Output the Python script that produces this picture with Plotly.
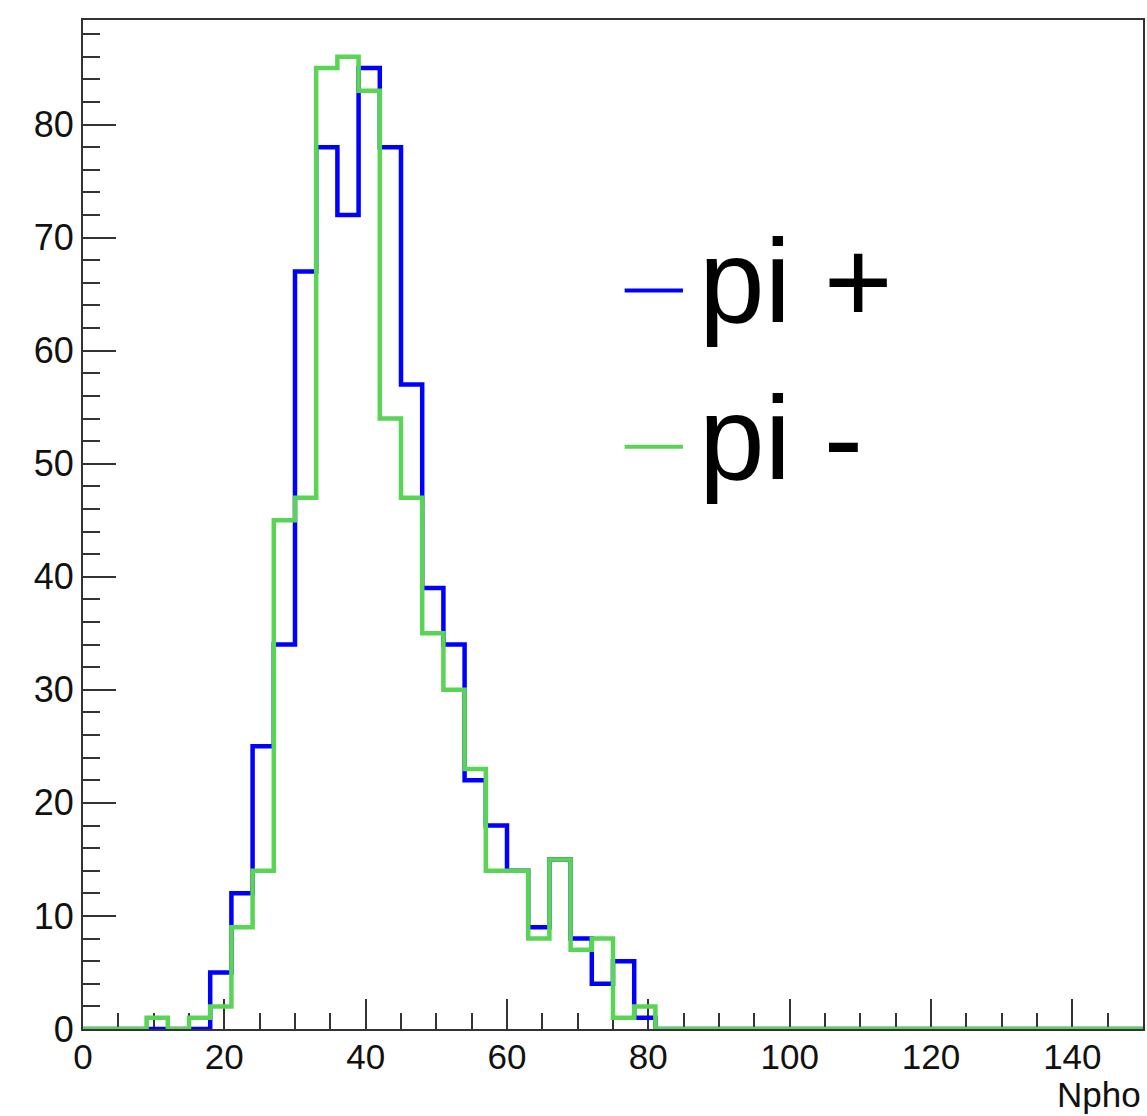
import plotly.graph_objects as go

# Histogram binning (Npho), bin width 3 from 0 to 150
bin_edges = list(range(0, 151, 3))

# Counts per bin (50 bins)
pi_plus = [0, 0, 0, 0, 0, 0, 5, 12, 25, 34, 67, 78, 72, 85, 78, 57, 39, 34, 22, 18,
           14, 9, 15, 8, 4, 6, 1, 0, 0, 0, 0, 0, 0, 0, 0, 0, 0, 0, 0, 0,
           0, 0, 0, 0, 0, 0, 0, 0, 0, 0]
pi_minus = [0, 0, 0, 1, 0, 1, 2, 9, 14, 45, 47, 85, 86, 83, 54, 47, 35, 30, 23, 14,
            14, 8, 15, 7, 8, 1, 2, 0, 0, 0, 0, 0, 0, 0, 0, 0, 0, 0, 0, 0,
            0, 0, 0, 0, 0, 0, 0, 0, 0, 0]

series_names = ["pi +", "pi -"]
series_colors = ["#0000ff", "#59d454"]
x_title = "Npho"

FONT = "Liberation Sans, Arial, Helvetica, sans-serif"

fig = go.Figure()
for name, counts, color in zip(series_names, [pi_plus, pi_minus], series_colors):
    fig.add_trace(go.Scatter(
        x=bin_edges,
        y=counts + [counts[-1]],
        mode="lines",
        line=dict(color=color, width=4.5, shape="hv"),
        name=name,
        showlegend=False,
        hoverinfo="skip",
    ))

ymax = max(pi_plus) * 1.05

fig.update_layout(
    width=1147, height=1116,
    margin=dict(l=83, r=2, t=20, b=87),
    paper_bgcolor="white", plot_bgcolor="white",
    font=dict(family=FONT, size=36, color="black"),
    xaxis=dict(
        range=[0, 150], showgrid=False, zeroline=False,
        showline=True, mirror=True, linecolor="#333", linewidth=2,
        ticks="inside", tick0=0, dtick=20, ticklen=30, tickwidth=2, tickcolor="#333",
        minor=dict(ticks="inside", dtick=5, ticklen=16, tickwidth=2, tickcolor="#333"),
        tickfont=dict(family=FONT, size=35, color="#111"),
        ticklabelstandoff=-4,
        layer="below traces",
    ),
    yaxis=dict(
        range=[0, ymax], showgrid=False, zeroline=False,
        showline=True, mirror=True, linecolor="#333", linewidth=2,
        ticks="inside", tick0=0, dtick=10, ticklen=33, tickwidth=2, tickcolor="#333",
        minor=dict(ticks="inside", dtick=2, ticklen=17, tickwidth=2, tickcolor="#333"),
        tickfont=dict(family=FONT, size=36, color="#111"),
        layer="below traces",
    ),
)

# Axis title (right-aligned below the x axis, ROOT style)
fig.add_annotation(
    text=x_title, xref="paper", yref="paper", x=1, y=0,
    xanchor="right", yanchor="top", yshift=-44, showarrow=False,
    font=dict(family=FONT, size=35, color="#111"),
)

# Legend (ROOT TLegend style)
leg_y = [0.732, 0.577]
for name, color, ly in zip(series_names, series_colors, leg_y):
    fig.add_shape(type="line", xref="paper", yref="paper",
                  x0=0.511, x1=0.566, y0=ly, y1=ly,
                  line=dict(color=color, width=4))
    fig.add_annotation(
        text=name, xref="paper", yref="paper", x=0.579, y=ly,
        xanchor="left", yanchor="middle", yshift=9, showarrow=False,
        font=dict(family=FONT, size=118, color="black"),
    )

fig.write_html("out.html")
